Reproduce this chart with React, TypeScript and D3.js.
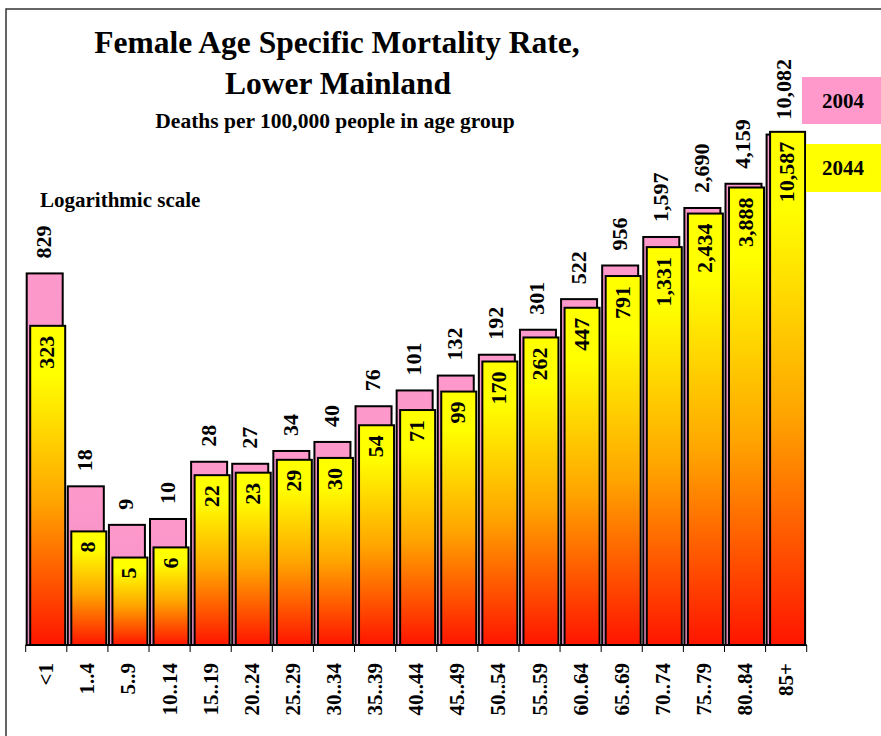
import * as d3 from "d3";

const ageGroups = ["<1", "1..4", "5..9", "10..14", "15..19", "20..24", "25..29", "30..34", "35..39", "40..44", "45..49", "50..54", "55..59", "60..64", "65..69", "70..74", "75..79", "80..84", "85+"];
const rate2004 = [829, 18, 9, 10, 28, 27, 34, 40, 76, 101, 132, 192, 301, 522, 956, 1597, 2690, 4159, 10082];
const rate2044 = [323, 8, 5, 6, 22, 23, 29, 30, 54, 71, 99, 170, 262, 447, 791, 1331, 2434, 3888, 10587];
const legendYears = ["2004", "2044"];

const W = 881;
const H = 736;
const baseY = 645;
const font = "'Liberation Serif', 'Times New Roman', serif";
const fmt = d3.format(",");

export default function App() {
  const x = d3.scaleBand<string>().domain(ageGroups).range([25.7, 806.7]).padding(0);
  const y = d3.scaleLog().domain([1, 100000]).range([647, 7]);
  const step = x.step();
  // tick marks sit on band boundaries
  const tickXs = ageGroups.map((g) => x(g) as number).concat([x.range()[1]]);

  return (
    <svg width={W} height={H} style={{ position: "absolute", left: 0, top: 0, background: "#fff" }} fontFamily={font} fontWeight="bold">
      <defs>
        <linearGradient id="yel" x1="0" y1="0" x2="0" y2="1">
          <stop offset="0" stopColor="#ffff00" />
          <stop offset="0.15" stopColor="#ffff00" />
          <stop offset="0.55" stopColor="#ffa500" />
          <stop offset="1" stopColor="#ff1500" />
        </linearGradient>
        <linearGradient id="pnk" x1="0" y1="0" x2="0" y2="1">
          <stop offset="0" stopColor="#ff99cc" />
          <stop offset="1" stopColor="#e88cc0" />
        </linearGradient>
      </defs>
      <rect x={6} y={9} width={W + 20} height={H + 20} fill="none" stroke="#333" strokeWidth={1.5} />

      <text x={337} y={53} textAnchor="middle" fontSize={31.5}>Female Age Specific Mortality Rate,</text>
      <text x={338} y={94} textAnchor="middle" fontSize={31.5}>Lower Mainland</text>
      <text x={335} y={128} textAnchor="middle" fontSize={21.5}>Deaths per 100,000 people in age group</text>
      <text x={40} y={207} fontSize={21}>Logarithmic scale</text>

      {ageGroups.map((g, i) => {
        const bx = x(g) as number;
        const pTop = y(rate2004[i]);
        const yTop = y(rate2044[i]);
        const pcx = bx + 18;
        const ycx = bx + 21;
        return (
          <g key={g}>
            <rect x={bx + 1} y={pTop} width={36} height={baseY - pTop} fill="url(#pnk)" stroke="#000" strokeWidth={2} />
            <rect x={bx + 4.5} y={yTop} width={35} height={baseY - yTop} fill="url(#yel)" stroke="#000" strokeWidth={2} />
            <text transform={`translate(${pcx},${pTop - 15}) rotate(-90)`} dominantBaseline="central" fontSize={22}>
              {fmt(rate2004[i])}
            </text>
            <text transform={`translate(${ycx},${yTop + 10}) rotate(-90)`} dominantBaseline="central" textAnchor="end" fontSize={22}>
              {fmt(rate2044[i])}
            </text>
            <text transform={`translate(${bx + step / 2},${baseY + 18}) rotate(-90)`} dominantBaseline="central" textAnchor="end" fontSize={21}>
              {g}
            </text>
          </g>
        );
      })}

      <line x1={x.range()[0]} x2={x.range()[1]} y1={baseY} y2={baseY} stroke="#000" strokeWidth={2} />
      {tickXs.map((tx, i) => (
        <line key={i} x1={tx} x2={tx} y1={baseY} y2={baseY + 7} stroke="#000" strokeWidth={1} />
      ))}

      <rect x={802} y={77} width={W - 802} height={47} fill="#ff99cc" />
      <text x={843} y={101} textAnchor="middle" dominantBaseline="central" fontSize={21}>{legendYears[0]}</text>
      <rect x={806} y={144} width={W - 806} height={48} fill="#ffff00" />
      <text x={843} y={168} textAnchor="middle" dominantBaseline="central" fontSize={21}>{legendYears[1]}</text>
    </svg>
  );
}
